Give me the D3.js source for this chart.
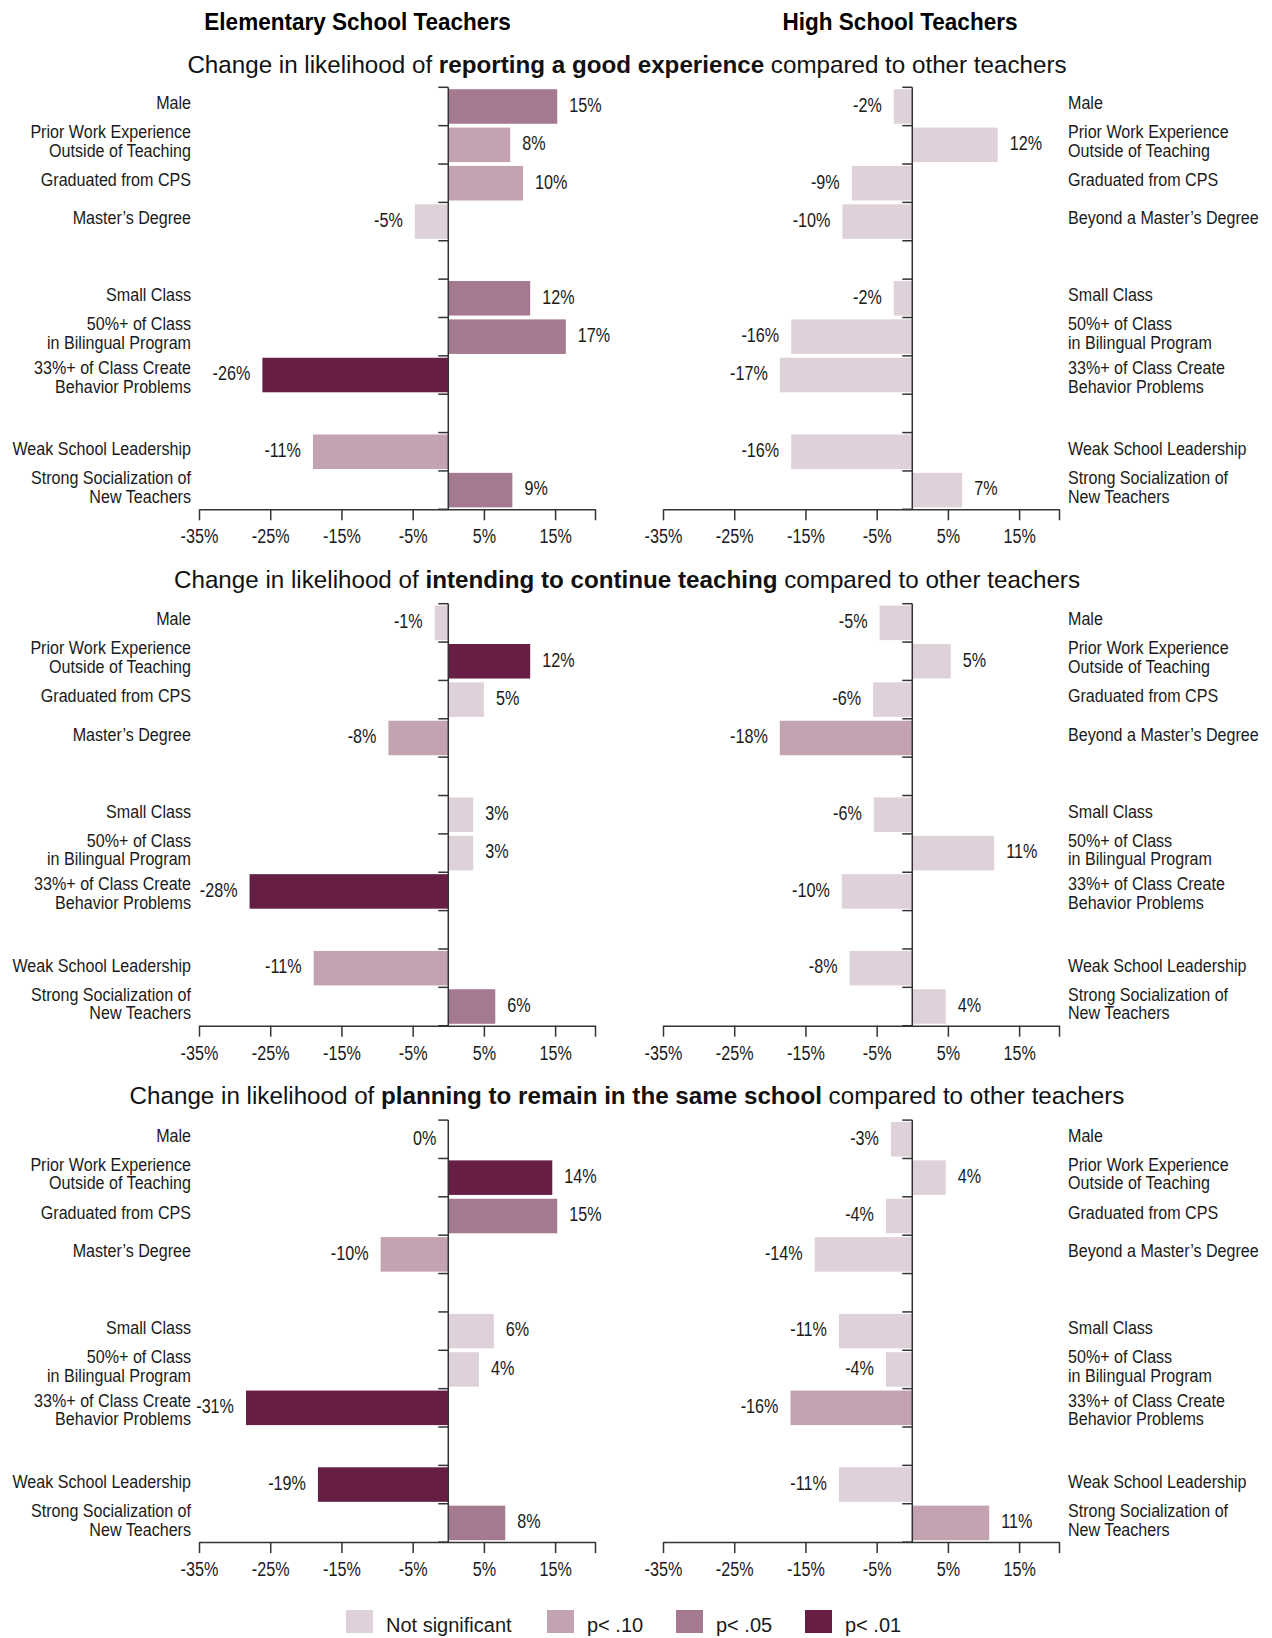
<!DOCTYPE html>
<html><head><meta charset="utf-8">
<script src="https://cdn.jsdelivr.net/npm/d3@7"></script>
<style>body{margin:0;background:#fff}</style>
</head><body><svg id="c" width="1272" height="1638"></svg>
<script>
// ---------- DATA ----------
const schools = ["Elementary School Teachers", "High School Teachers"];
const outcomes = ["reporting a good experience", "intending to continue teaching", "planning to remain in the same school"];
const elemCategories = ["Male", "Prior Work Experience\nOutside of Teaching", "Graduated from CPS", "Master’s Degree",
  "Small Class", "50%+ of Class\nin Bilingual Program", "33%+ of Class Create\nBehavior Problems",
  "Weak School Leadership", "Strong Socialization of\nNew Teachers"];
const highCategories = ["Male", "Prior Work Experience\nOutside of Teaching", "Graduated from CPS", "Beyond a Master’s Degree",
  "Small Class", "50%+ of Class\nin Bilingual Program", "33%+ of Class Create\nBehavior Problems",
  "Weak School Leadership", "Strong Socialization of\nNew Teachers"];
const categoryGroupSizes = [4, 3, 2];
const xTickValues = [-35, -25, -15, -5, 5, 15];
const xDomain = [-35, 20.6];

// bar lengths (percentage points, as drawn)
const elemGoodValues   = [15.3, 8.7, 10.5, -4.7, 11.5, 16.5, -26.1, -19.0, 9.0];
const elemGoodLabels   = [15, 8, 10, -5, 12, 17, -26, -11, 9];
const elemGoodSig      = ["p05", "p10", "p10", "ns", "p05", "p05", "p01", "p10", "p05"];
const highGoodValues   = [-2.6, 12.0, -8.5, -9.8, -2.6, -17.0, -18.6, -17.0, 7.0];
const highGoodLabels   = [-2, 12, -9, -10, -2, -16, -17, -16, 7];
const highGoodSig      = ["ns", "ns", "ns", "ns", "ns", "ns", "ns", "ns", "ns"];

const elemContValues   = [-1.9, 11.5, 5.0, -8.4, 3.5, 3.5, -27.9, -18.9, 6.6];
const elemContLabels   = [-1, 12, 5, -8, 3, 3, -28, -11, 6];
const elemContSig      = ["ns", "p01", "ns", "p10", "ns", "ns", "p01", "p10", "p05"];
const highContValues   = [-4.6, 5.4, -5.5, -18.6, -5.4, 11.5, -9.9, -8.8, 4.7];
const highContLabels   = [-5, 5, -6, -18, -6, 11, -10, -8, 4];
const highContSig      = ["ns", "ns", "ns", "p10", "ns", "ns", "ns", "ns", "ns"];

const elemStayValues   = [0, 14.6, 15.3, -9.5, 6.4, 4.3, -28.4, -18.3, 8.0];
const elemStayLabels   = [0, 14, 15, -10, 6, 4, -31, -19, 8];
const elemStaySig      = ["ns", "p01", "p05", "p10", "ns", "ns", "p01", "p01", "p05"];
const highStayValues   = [-3.0, 4.7, -3.7, -13.7, -10.3, -3.7, -17.1, -10.3, 10.8];
const highStayLabels   = [-3, 4, -4, -14, -11, -4, -16, -11, 11];
const highStaySig      = ["ns", "ns", "ns", "ns", "ns", "ns", "p10", "ns", "p10"];

const sigLevels = ["ns", "p10", "p05", "p01"];
const sigNames  = ["Not significant", "p< .10", "p< .05", "p< .01"];
const sigColors = ["#dfd1da", "#c3a2b2", "#a5798f", "#661e45"];

// ---------- LAYOUT ----------
const sans = "'Liberation Sans',Arial,Helvetica,sans-serif";
const NARROW = 0.83;      // horizontal squeeze to emulate a condensed face (numbers)
const LABEL_NARROW = 0.87;
const ink = "#1a1a1a";
const svg = d3.select("#c");
const color = d3.scaleOrdinal().domain(sigLevels).range(sigColors);

const panels = [
  [[elemGoodValues, elemGoodLabels, elemGoodSig], [highGoodValues, highGoodLabels, highGoodSig]],
  [[elemContValues, elemContLabels, elemContSig], [highContValues, highContLabels, highContSig]],
  [[elemStayValues, elemStayLabels, elemStaySig], [highStayValues, highStayLabels, highStaySig]]
];

const rowKeys = [];
const rowOfCat = [];
{
  let c = 0;
  categoryGroupSizes.forEach((n, g) => {
    if (g > 0) rowKeys.push("gap" + g);
    for (let i = 0; i < n; i++) { rowOfCat.push(rowKeys.length); rowKeys.push("c" + c); c++; }
  });
}
const labelNudge = {6: 5};   // the "33%+ ..." label sits a little lower

const xRanges = [[199, 595], [663, 1059]];
const panelTop0 = 87.3, panelStep = 516.4, panelH = 422;

// titles
const titleX = [357.5, 900];
schools.forEach((s, i) => {
  svg.append("text")
    .attr("transform", `translate(${titleX[i]},30) scale(0.92,1)`)
    .attr("text-anchor", "middle").attr("font-family", sans).attr("font-weight", "bold")
    .attr("font-size", 24.5).attr("fill", "#000").text(s);
});

outcomes.forEach((outcome, k) => {
  const top = panelTop0 + k * panelStep;
  const bottom = top + panelH;

  const st = svg.append("text").attr("x", 627).attr("y", top - (k === 0 ? 14 : 16))
    .attr("text-anchor", "middle").attr("font-family", sans).attr("font-size", 24.2).attr("fill", "#111");
  st.append("tspan").text("Change in likelihood of ");
  st.append("tspan").attr("font-weight", "bold").text(outcome);
  st.append("tspan").text(" compared to other teachers");

  const y = d3.scaleBand().domain(rowKeys).range([top, bottom]).paddingInner(0.1).paddingOuter(0.05);
  const half = y.step() * 0.05;
  const boundaries = rowKeys.map(r => y(r) - half).concat([bottom]);
  // category labels follow a slightly wider row pitch than the bars
  const labelY = d3.scaleLinear().domain([0, rowKeys.length - 1]).range([top + 15, top + 15 + 38.5 * (rowKeys.length - 1)]);

  [0, 1].forEach(side => {
    const [vals, labs, sigs] = panels[k][side];
    const cats = side === 0 ? elemCategories : highCategories;
    const x = d3.scaleLinear().domain(xDomain).range(xRanges[side]);
    const g = svg.append("g");
    const x0 = x(0);
    const rows = vals.map((v, i) => ({v, i}));

    // bars
    g.selectAll("rect.bar").data(rows.filter(d => d.v !== 0)).join("rect")
      .attr("class", "bar")
      .attr("x", d => Math.min(x(d.v), x0))
      .attr("width", d => Math.abs(x(d.v) - x0))
      .attr("y", d => y(rowKeys[rowOfCat[d.i]]))
      .attr("height", y.bandwidth())
      .attr("fill", d => color(sigs[d.i]));

    // x axis
    const ax = g.append("g").attr("transform", `translate(0,${bottom})`)
      .call(d3.axisBottom(x).tickValues(xTickValues.concat([xDomain[1]]))
        .tickFormat(d => d === xDomain[1] ? "" : d + "%").tickSize(11).tickSizeOuter(0).tickPadding(9));
    ax.select(".domain").attr("stroke", "#333").attr("stroke-width", 1.5);
    ax.selectAll(".tick line").attr("stroke", "#333").attr("stroke-width", 1.5);
    ax.selectAll(".tick text").attr("font-family", sans).attr("font-size", 19.5).attr("fill", ink)
      .attr("transform", `scale(${NARROW},1)`);

    // vertical zero axis with ticks at row boundaries
    g.append("line").attr("x1", x0).attr("x2", x0).attr("y1", top).attr("y2", bottom)
      .attr("stroke", "#333").attr("stroke-width", 1.5);
    g.selectAll("line.yt").data(boundaries).join("line").attr("class", "yt")
      .attr("x1", x0 - 10).attr("x2", x0).attr("y1", d => d).attr("y2", d => d)
      .attr("stroke", "#333").attr("stroke-width", 1.5);

    // value labels
    g.selectAll("text.val").data(rows).join("text")
      .attr("class", "val")
      .attr("transform", d => {
        const tx = d.v > 0 ? x(d.v) + 12 : Math.min(x(d.v), x0) - 12;
        const ty = y(rowKeys[rowOfCat[d.i]]) + y.bandwidth() / 2 - 1.5;
        return `translate(${tx},${ty}) scale(${NARROW},1)`;
      })
      .attr("dy", "0.35em")
      .attr("text-anchor", d => d.v > 0 ? "start" : "end")
      .attr("font-family", sans).attr("font-size", 19.5).attr("fill", ink)
      .text(d => labs[d.i] + "%");

    // category labels
    const lx = side === 0 ? 191 : 1068;
    cats.forEach((c, i) => {
      const lines = c.split("\n");
      const cy = labelY(rowOfCat[i]) + (labelNudge[i] || 0);
      const t = g.append("text")
        .attr("transform", `translate(${lx},${cy}) scale(${LABEL_NARROW},1)`)
        .attr("text-anchor", side === 0 ? "end" : "start")
        .attr("font-family", sans).attr("font-size", 18.5).attr("fill", ink);
      lines.forEach((ln, j) => {
        t.append("tspan").attr("x", 0)
          .attr("y", (j - (lines.length - 1) / 2) * 18.6).attr("dy", "0.35em").text(ln);
      });
    });
  });
});

// legend
const legendSwatchX = [346, 547, 676, 805];
const legend = svg.append("g");
sigLevels.forEach((s, i) => {
  legend.append("rect").attr("x", legendSwatchX[i]).attr("y", 1610).attr("width", 27).attr("height", 23)
    .attr("fill", color(s));
  legend.append("text").attr("x", legendSwatchX[i] + 40).attr("y", 1632)
    .attr("font-family", sans).attr("font-size", 20).attr("fill", ink).text(sigNames[i]);
});
</script></body></html>
